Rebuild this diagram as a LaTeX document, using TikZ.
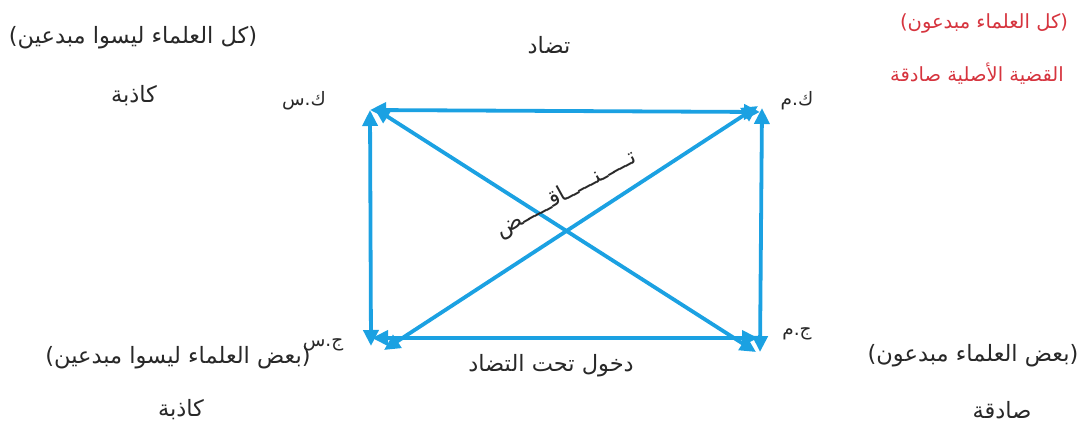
\documentclass[tikz,border=0pt]{standalone}
\usepackage{fontspec}
\TeXXeTstate=1
\newfontfamily\arabicfont[Script=Arabic]{DejaVu Sans}
\usetikzlibrary{arrows.meta}
\definecolor{lineblue}{RGB}{27,161,226}
\definecolor{txtred}{RGB}{214,52,62}
\definecolor{txtgray}{RGB}{40,40,40}
\tikzset{
  conn/.style={draw=lineblue, line width=3.8pt, {Triangle[length=16pt,width=15pt]}-{Triangle[length=16pt,width=15pt]}},
  lbl/.style={font=\arabicfont\fontsize{22.5}{26}\selectfont, text=txtgray, inner sep=0pt},
  redlbl/.style={font=\arabicfont\fontsize{19.5}{23}\selectfont, text=txtred, inner sep=0pt},
  corner/.style={font=\arabicfont\fontsize{18.5}{22}\selectfont, text=txtgray, inner sep=0pt}
}
\begin{document}
\begin{tikzpicture}[x=1pt,y=-1pt]
\useasboundingbox (0,0) rectangle (1091,429);
% corner coordinates
\coordinate (TL) at (368,110);
\coordinate (TR) at (762,112);
\coordinate (BL) at (370,338);
\coordinate (BR) at (760,338);
% connectors
\draw[conn] ([xshift=2pt]TL) -- ([xshift=-2pt]TR);
\draw[conn] ([xshift=2pt]BL) -- ([xshift=-2pt]BR);
\draw[conn] ([xshift=2pt]TL) -- ([xshift=1pt,yshift=-8pt]BL);
\draw[conn] ([yshift=4pt]TR) -- ([yshift=-14pt]BR);
\draw[conn] ([xshift=6pt,yshift=2pt]TL) -- ([xshift=-4pt,yshift=-14pt]BR);
\draw[conn] ([xshift=-4pt,yshift=6pt]TR) -- ([xshift=14pt,yshift=-12pt]BL);
% corner labels
\node[corner] (ks) at (304,101) {\beginR ك.س\endR};
\node[corner] (km) at (797,101) {\beginR ك.م\endR};
\node[corner] (js) at (323,345) {\beginR ج.س\endR};
\node[corner] (jm) at (797,334) {\beginR ج.م\endR};
% relation labels
\node[lbl] (tadad) at (549,45) {\beginR تضاد\endR};
\node[lbl] (dukhul) at (551,366) {\beginR دخول تحت التضاد\endR};
\node[lbl, rotate=29] (tanaqud) at (566,194) {\beginR تـــــنـــــاقـــــض\endR};
% propositions
\node[lbl] (p1) at (133,38) {\beginR (كل العلماء ليسوا مبدعين)\endR};
\node[lbl] (p1v) at (134,96) {\beginR كاذبة\endR};
\node[redlbl] (p2) at (984,23) {\beginR (كل العلماء مبدعون)\endR};
\node[redlbl] (p2v) at (977,74) {\beginR القضية الأصلية صادقة\endR};
\node[lbl] (p3) at (178,358) {\beginR (بعض العلماء ليسوا مبدعين)\endR};
\node[lbl] (p3v) at (181,410) {\beginR كاذبة\endR};
\node[lbl] (p4) at (973,356) {\beginR (بعض العلماء مبدعون)\endR};
\node[lbl] (p4v) at (1002,410) {\beginR صادقة\endR};
\end{tikzpicture}
\end{document}
